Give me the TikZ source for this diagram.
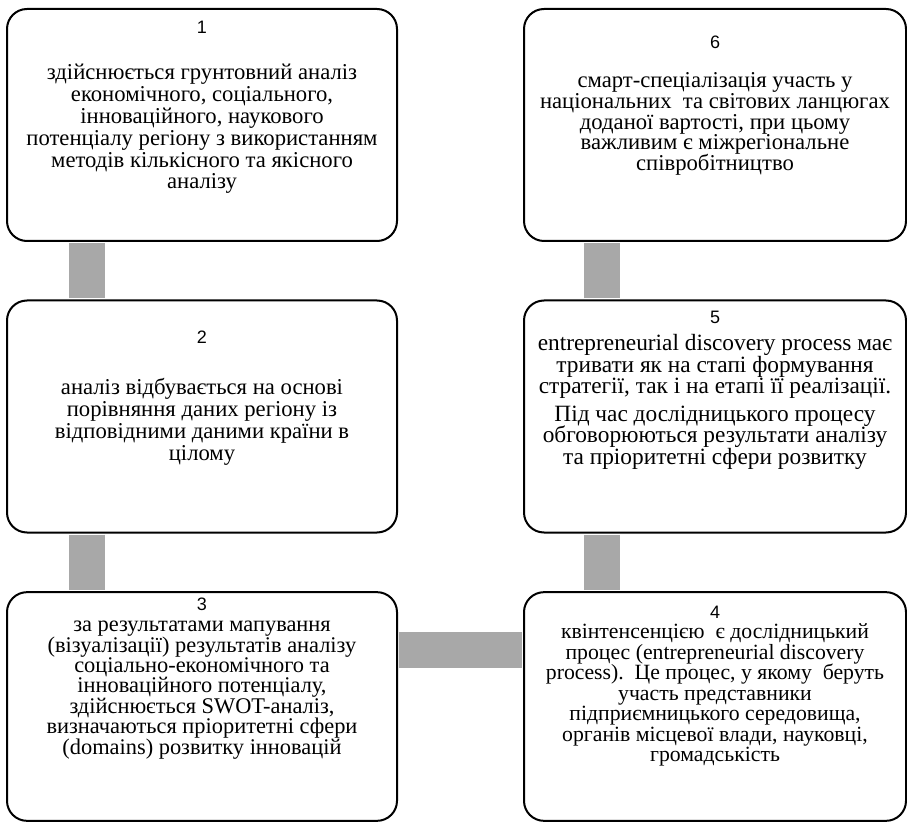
\documentclass[tikz,border=0pt]{standalone}
\usepackage{fontspec}
\setmainfont{Liberation Serif}
\newfontfamily\numfont{Liberation Sans}
\usetikzlibrary{positioning}
\definecolor{bargray}{RGB}{168,168,168}
\newcommand\cardfont[2]{\fontsize{#1pt}{#2pt}\selectfont\lineskiplimit=-100pt\relax}

\begin{document}
\begin{tikzpicture}[x=0.75pt,y=-0.75pt,
    card/.style={draw=black,line width=1.5pt,rounded corners=15pt,fill=white,
      minimum width=#1,minimum height=174pt,inner sep=0pt},
    card/.default=292.5pt,
    cardnum/.style={font=\numfont\fontsize{13.5}{16}\selectfont,inner sep=0pt},
    cardtext/.style 2 args={align=center,inner sep=0pt,font=\cardfont{#1}{#2}},
    bar/.style={draw=bargray,line width=27pt,shorten <=0.75pt,shorten >=0.75pt}]
    \useasboundingbox (0,0) rectangle (907,823);
    % boxes
    \node[card] (b1) at (202,125) {};
    \node[card] (b2) at (202,416.5) {};
    \node[card,minimum height=171.5pt] (b3) at (202,706.5) {};
    \node[card=286.5pt] (b6) at (715,125) {};
    \node[card=286.5pt] (b5) at (715,416.5) {};
    \node[card=286.5pt,minimum height=171.5pt] (b4) at (715,706.5) {};
    % connectors
    \draw[bar] (b1.south -| 87,0) -- (b2.north -| 87,0);
    \draw[bar] (b2.south -| 87,0) -- (b3.north -| 87,0);
    \draw[bar] (b3.east |- 0,650) -- (b4.west |- 0,650);
    \draw[bar] (b4.north -| 602,0) -- (b5.south -| 602,0);
    \draw[bar] (b5.north -| 602,0) -- (b6.south -| 602,0);
    % numbers
    \node[cardnum] (n1) at (202,27) {1};
    \node[cardnum] (n2) at (202,337) {2};
    \node[cardnum] (n3) at (202,604) {3};
    \node[cardnum] (n4) at (715,612) {4};
    \node[cardnum] (n5) at (715,317) {5};
    \node[cardnum] (n6) at (715,42) {6};
    % texts
    \node[cardtext={17}{16.4}] (t1) at (202,129) {здійснюється грунтовний аналіз\\
      економічного, соціального,\\ інноваційного, наукового\\
      потенціалу регіону з використанням\\ методів кількісного та якісного\\ аналізу};
    \node[cardtext={17}{16.4}] (t2) at (202,422) {аналіз відбувається на основі\\
      порівняння даних регіону із\\ відповідними даними країни в\\ цілому};
    \node[cardtext={16.8}{15.3}] (t3) at (202,690) {за результатами мапування\\
      (візуалізації) результатів аналізу\\ соціально-економічного та\\
      інноваційного потенціалу,\\ здійснюється SWOT-аналіз,\\
      визначаються пріоритетні сфери\\ (domains) розвитку інновацій};
    \node[cardtext={16.3}{15.4}] (t4) at (715,695)
      {квінтенсенцією\ \ є дослідницький\\
      процес (entrepreneurial discovery\\ process).\ \ Це процес, у якому\ \ беруть\\
      участь представники\\ підприємницького середовища,\\
      органів місцевої влади, науковці,\\ громадськість};
    \node[cardtext={17.5}{16}] (t5) at (715,402)
      {entrepreneurial discovery process має\\
      тривати як на стапі формування\\ стратегії, так і на етапі її реалізації.\\[5pt]
      Під час дослідницького процесу\\ обговорюються результати аналізу\\
      та пріоритетні сфери розвитку};
    \node[cardtext={17}{15.6}] (t6) at (715,124) {смарт-спеціалізація участь у\\
      національних\ \ та світових ланцюгах\\ доданої вартості, при цьому\\
      важливим є міжрегіональне\\ співробітництво};
\end{tikzpicture}
\end{document}
